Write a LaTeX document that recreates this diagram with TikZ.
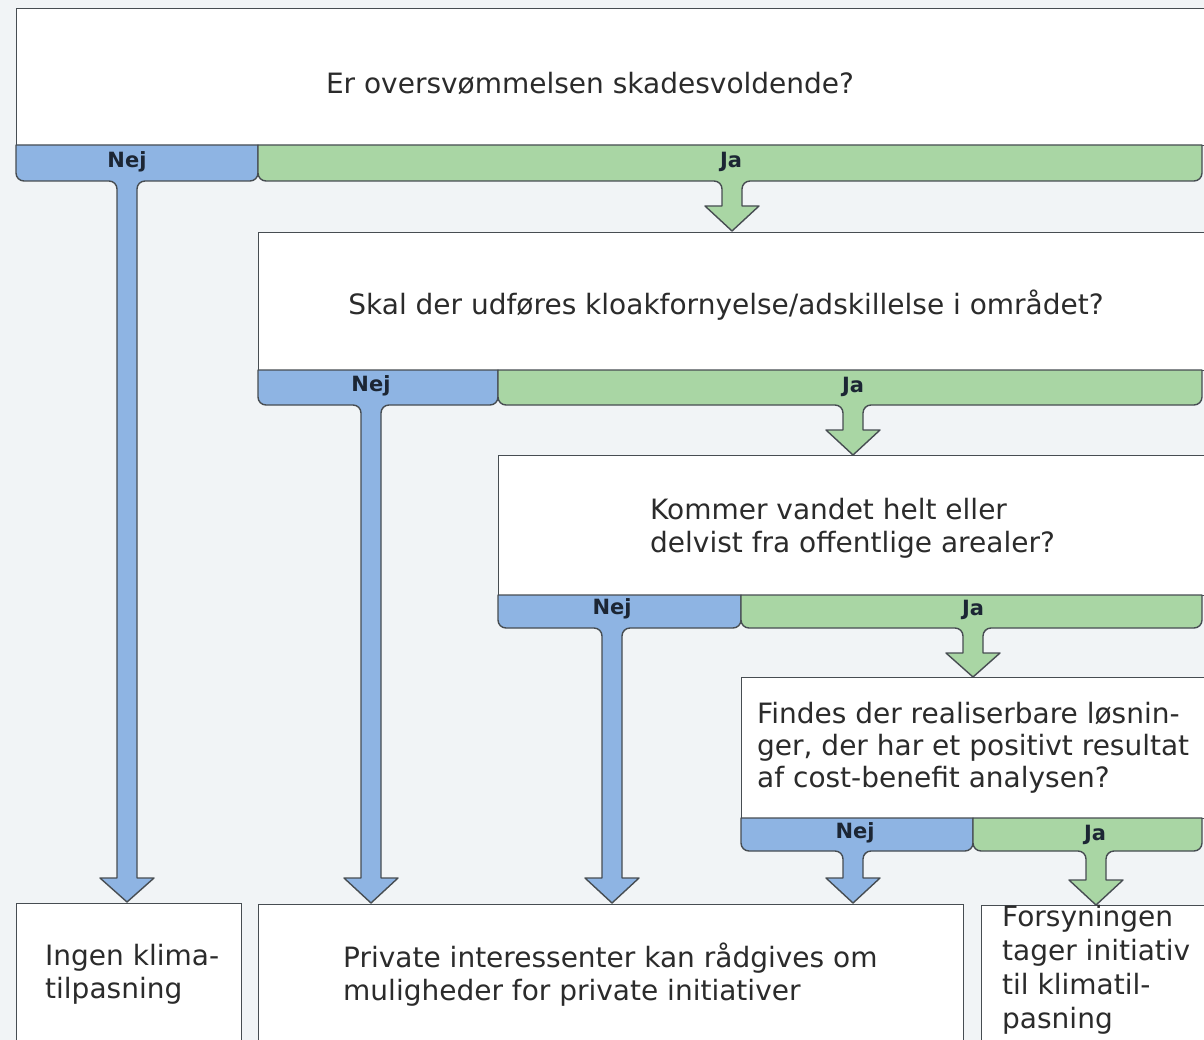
\documentclass[tikz,border=0pt]{standalone}
\usepackage{fontspec}
\setmainfont{DejaVu Sans}
\definecolor{bgc}{HTML}{F1F4F6}
\definecolor{nejblue}{HTML}{8EB4E3}
\definecolor{jagreen}{HTML}{A9D6A4}
\definecolor{edgec}{HTML}{474D52}
\definecolor{txtc}{HTML}{2B2B2B}
\definecolor{lblc}{HTML}{1C2634}
\tikzset{
  qbox/.style={draw=edgec, line width=1.4pt, fill=white, inner sep=0pt, anchor=north west},
  qtext/.style={text=txtc, font=\fontsize{28}{33}\selectfont, align=left, inner sep=0pt},
  barline/.style={draw=edgec, line width=1.4pt, line join=round},
  lbl/.style={text=lblc, font=\fontsize{21}{24}\bfseries\selectfont, inner sep=0pt}
}
% #1 colour, #2 left x, #3 right x, #4 bar top y, #5 bar bottom y, #6 stem x, #7 head top y, #8 tip y
\newcommand{\mkbranch}[8]{%
  \filldraw[barline, fill=#1] (#2,#4) -- (#3,#4) -- (#3,{#5+8})
    arc[start angle=0,end angle=-90,radius=8] -- ({#6+18},#5)
    arc[start angle=90,end angle=180,radius=8] -- ({#6+10},#7)
    -- ({#6+27},#7) -- (#6,#8) -- ({#6-27},#7) -- ({#6-10},#7)
    -- ({#6-10},{#5-8}) arc[start angle=0,end angle=90,radius=8]
    -- ({#2+8},#5) arc[start angle=270,end angle=180,radius=8] -- cycle;}
\begin{document}
\begin{tikzpicture}[x=1pt,y=1pt]
\fill[bgc] (0,0) rectangle (1204,-1040);
\useasboundingbox (0,0) rectangle (1204,-1040);
\begin{scope}
\clip (0,0) rectangle (1204,-1040);
% question boxes
\node[qbox, minimum width=1190pt, minimum height=137pt] (q1) at (16,-8) {};
\node[qbox, minimum width=948pt, minimum height=138pt] (q2) at (258,-232) {};
\node[qbox, minimum width=708pt, minimum height=140pt] (q3) at (498,-455) {};
\node[qbox, minimum width=465pt, minimum height=141pt] (q4) at (741,-677) {};
% result boxes
\node[qbox, minimum width=225pt, minimum height=142pt] (r1) at (16,-903) {};
\node[qbox, minimum width=705pt, minimum height=141pt] (r2) at (258,-904) {};
\node[qbox, minimum width=225pt, minimum height=140pt] (r3) at (981,-905) {};
% branches
\mkbranch{nejblue}{16}{258}{-145}{-181}{127}{-878}{-902}
\mkbranch{jagreen}{258}{1202}{-145}{-181}{732}{-206}{-231}
\mkbranch{nejblue}{258}{498}{-370}{-405}{371}{-878}{-903}
\mkbranch{jagreen}{498}{1202}{-370}{-405}{853}{-430}{-455}
\mkbranch{nejblue}{498}{741}{-595}{-628}{612}{-878}{-903}
\mkbranch{jagreen}{741}{1202}{-595}{-628}{973}{-653}{-677}
\mkbranch{nejblue}{741}{973}{-818}{-851}{853}{-878}{-903}
\mkbranch{jagreen}{973}{1202}{-818}{-851}{1096}{-880}{-905}
\end{scope}
% labels
\node[lbl] (n1) at (127,-162) {Nej};
\node[lbl] (j1) at (731,-162) {Ja};
\node[lbl] (n2) at (371,-386) {Nej};
\node[lbl] (j2) at (853,-387) {Ja};
\node[lbl] (n3) at (612,-609) {Nej};
\node[lbl] (j3) at (973,-610) {Ja};
\node[lbl] (n4) at (855,-833) {Nej};
\node[lbl] (j4) at (1095,-835) {Ja};
% texts
\node[qtext] (t1) at (590,-84) {Er oversvømmelsen skadesvoldende?};
\node[qtext] (t2) at (726,-305) {Skal der udføres kloakfornyelse/adskillelse i området?};
\node[qtext, anchor=west] (t3) at (650,-528) {Kommer vandet helt eller\\delvist fra offentlige arealer?};
\node[qtext, anchor=west, font=\fontsize{28}{32}\selectfont] (t4) at (757,-748) {Findes der realiserbare løsnin-\\ger, der har et positivt resultat\\af cost-benefit analysen?};
\node[qtext, anchor=west] (ta) at (45,-974) {Ingen klima-\\tilpasning};
\node[qtext, anchor=west] (tb) at (343,-975) {Private interessenter kan rådgives om\\muligheder for private initiativer};
\node[qtext, anchor=west, font=\fontsize{28}{34}\selectfont] (tc) at (1002,-970) {Forsyningen\\tager initiativ\\til klimatil-\\pasning};
\end{tikzpicture}
\end{document}
